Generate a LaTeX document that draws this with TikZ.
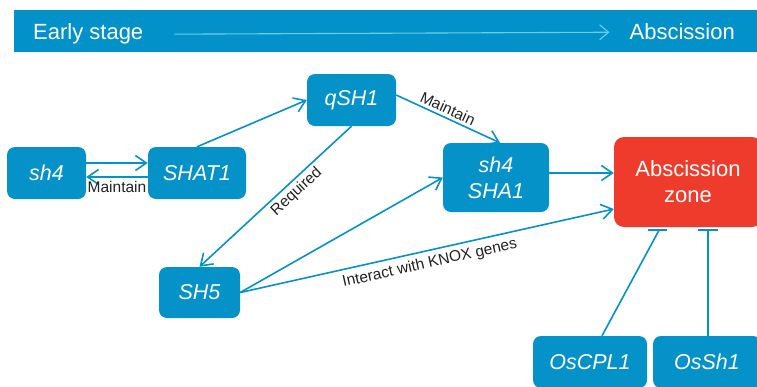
\documentclass[tikz,border=0pt]{standalone}
\usepackage{fontspec}
\setmainfont{Liberation Sans}
\usetikzlibrary{arrows.meta,calc}
\definecolor{nblue}{HTML}{0592C8}
\definecolor{nred}{HTML}{EE3B2C}
\definecolor{barblue}{HTML}{0391C9}
\definecolor{lightc}{HTML}{6ACDEA}
\definecolor{lbl}{HTML}{222222}
\begin{document}
\begin{tikzpicture}[x=1pt,y=-1pt,
  gene/.style={fill=nblue, rounded corners=8pt, text=white, font=\fontsize{21.5}{26}\selectfont\itshape, align=center, inner sep=0pt},
  zone/.style={fill=nred, rounded corners=10pt, text=white, font=\fontsize{22}{26}\selectfont, align=center, inner sep=0pt},
  link/.style={draw=nblue, line width=1.6pt, -{Straight Barb[length=11pt,width=15pt,line width=1.6pt]}},
  plainlink/.style={draw=nblue, line width=1.6pt},
  lab/.style={text=lbl, font=\fontsize{15.5}{18}\selectfont, inner sep=1pt},
  bartext/.style={text=white, font=\fontsize{22}{26}\selectfont, inner sep=0pt}
]
\useasboundingbox (0,0) rectangle (757,386);
\clip (0,0) rectangle (757,386);
% top bar
\fill[barblue] (14,10) rectangle (760,52);
\node[bartext, anchor=base west] (early) at (33,39) {Early stage};
\node[bartext, anchor=base east] (absc) at (735,39) {Abscission};
\draw[draw=lightc, line width=1.1pt, shorten <=31pt, shorten >=20pt, -{Straight Barb[length=9pt,width=15pt,line width=1.1pt]}] ($(early.east)+(0,1)$) -- ($(absc.west)+(0,1)$);
% nodes
\node[gene, minimum width=79pt, minimum height=52pt] (sh4) at (46.5,173) {sh4};
\node[gene, minimum width=98pt, minimum height=52pt] (shat1) at (197,173) {SHAT1};
\node[gene, minimum width=89pt, minimum height=52pt] (qsh1) at (351.5,100) {qSH1};
\node[gene, minimum width=106pt, minimum height=69pt] (sha1) at (496,177.5) {sh4\\SHA1};
\node[gene, minimum width=81pt, minimum height=51pt] (sh5) at (199.5,292.5) {SH5};
\node[zone, minimum width=148pt, minimum height=90pt] (zone) at (688,182) {Abscission\\zone};
\node[gene, minimum width=114pt, minimum height=52pt] (oscpl1) at (590,362) {OsCPL1};
\node[gene, minimum width=108pt, minimum height=52pt] (ossh1) at (707,362) {OsSh1};
% connectors
\draw[link] ($(sh4.east)+(0,-10)$) -- ($(shat1.west)+(0,-10)$);
\draw[link] ($(shat1.west)+(0,4)$) -- node[lab, below=2pt] (m1) {Maintain} ($(sh4.east)+(0,4)$);
\draw[link] (shat1.north) -- (qsh1.west);
\draw[link] ($(qsh1.east)+(0,-5)$) -- node[lab, sloped, above=2pt, pos=0.46] (m2) {Maintain} ($(sha1.north)+(4,0)$);
\draw[link] (qsh1.south) -- node[lab, sloped, below=2pt, pos=0.41] (req) {Required} (sh5.north);
\draw[link] (sh5.east) -- (sha1.west);
\draw[link] (sh5.east) -- node[lab, sloped, below=4pt, pos=0.5] (knox) {Interact with KNOX genes} ($(zone.west)+(0,27)$);
\draw[link] ($(sha1.east)+(0,-4.5)$) -- ($(zone.west)+(0,-9)$);
\draw[plainlink] ($(oscpl1.north)+(12,0)$) -- ($(zone.south)+(-29,3)$);
\draw[plainlink] ($(zone.south)+(-40,3)$) -- ($(zone.south)+(-21,3)$);
\draw[plainlink] ($(ossh1.north)+(1,0)$) -- ($(zone.south)+(20,3)$);
\draw[plainlink] ($(zone.south)+(10,3)$) -- ($(zone.south)+(30,3)$);
\end{tikzpicture}
\end{document}
